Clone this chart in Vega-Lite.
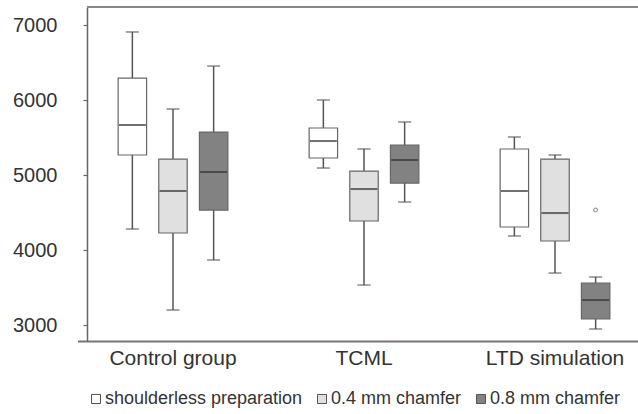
{
  "$schema": "https://vega.github.io/schema/vega-lite/v6.json",
  "width": 551,
  "height": 334,
  "autosize": "none",
  "padding": {"left": 87, "top": 7, "right": 0, "bottom": 73},
  "background": "white",
  "config": {
    "view": {"stroke": null},
    "font": "Liberation Sans",
    "axis": {"labelFont": "Liberation Sans", "labelColor": "#333", "grid": false, "title": null}
  },
  "datasets": {
    "boxes": [
      {"group": "Control group", "type": "shoulderless preparation", "lower": 4280, "q1": 5267, "median": 5667, "q3": 6293, "upper": 6907},
      {"group": "Control group", "type": "0.4 mm chamfer", "lower": 3200, "q1": 4227, "median": 4787, "q3": 5213, "upper": 5880},
      {"group": "Control group", "type": "0.8 mm chamfer", "lower": 3867, "q1": 4533, "median": 5040, "q3": 5573, "upper": 6453},
      {"group": "TCML", "type": "shoulderless preparation", "lower": 5093, "q1": 5227, "median": 5453, "q3": 5627, "upper": 6000},
      {"group": "TCML", "type": "0.4 mm chamfer", "lower": 3533, "q1": 4387, "median": 4813, "q3": 5053, "upper": 5347},
      {"group": "TCML", "type": "0.8 mm chamfer", "lower": 4640, "q1": 4893, "median": 5200, "q3": 5400, "upper": 5707},
      {"group": "LTD simulation", "type": "shoulderless preparation", "lower": 4187, "q1": 4307, "median": 4787, "q3": 5347, "upper": 5507},
      {"group": "LTD simulation", "type": "0.4 mm chamfer", "lower": 3693, "q1": 4120, "median": 4493, "q3": 5213, "upper": 5267},
      {"group": "LTD simulation", "type": "0.8 mm chamfer", "lower": 2947, "q1": 3080, "median": 3333, "q3": 3560, "upper": 3640}
    ],
    "outliers": [
      {"group": "LTD simulation", "type": "0.8 mm chamfer", "value": 4533}
    ]
  },
  "encoding": {
    "x": {
      "field": "group", "type": "nominal",
      "sort": ["Control group", "TCML", "LTD simulation"],
      "scale": {"range": [-9.5, 563.5], "paddingInner": 0, "paddingOuter": 0},
      "axis": {"orient": "bottom", "domainColor": "#777", "domainWidth": 2, "ticks": false, "labelFontSize": 21, "labelPadding": 6, "labelAngle": 0}
    },
    "xOffset": {
      "field": "type", "type": "nominal",
      "sort": ["shoulderless preparation", "0.4 mm chamfer", "0.8 mm chamfer"],
      "scale": {"paddingOuter": 1.1, "paddingInner": 0.3}
    }
  },
  "layer": [
    {
      "data": {"name": "boxes"},
      "mark": {"type": "rule", "color": "#555", "strokeWidth": 1.5},
      "encoding": {
        "y": {"field": "lower", "type": "quantitative",
          "scale": {"domain": [2787, 7240], "nice": false, "zero": false},
          "axis": {"values": [3000, 4000, 5000, 6000, 7000], "domainColor": "#666", "domainWidth": 1.5, "tickColor": "#666", "tickSize": 4, "tickWidth": 1.2, "labelFontSize": 20, "labelPadding": 26, "format": "d"}},
        "y2": {"field": "upper"}
      }
    },
    {
      "data": {"name": "boxes"},
      "mark": {"type": "tick", "color": "#555", "size": 13, "thickness": 1.5},
      "encoding": {"y": {"field": "upper", "type": "quantitative"}}
    },
    {
      "data": {"name": "boxes"},
      "mark": {"type": "tick", "color": "#555", "size": 13, "thickness": 1.5},
      "encoding": {"y": {"field": "lower", "type": "quantitative"}}
    },
    {
      "data": {"name": "boxes"},
      "mark": {"type": "bar", "stroke": "#666", "strokeWidth": 1.2},
      "encoding": {
        "y": {"field": "q1", "type": "quantitative"},
        "y2": {"field": "q3"},
        "fill": {
          "field": "type", "type": "nominal",
          "sort": ["shoulderless preparation", "0.4 mm chamfer", "0.8 mm chamfer"],
          "scale": {"domain": ["shoulderless preparation", "0.4 mm chamfer", "0.8 mm chamfer"], "range": ["#ffffff", "#e0e0e0", "#828282"]},
          "legend": {
            "title": null, "orient": "none", "direction": "horizontal",
            "legendX": 0, "legendY": 383,
            "symbolType": "square", "symbolSize": 81, "symbolStrokeColor": "#555", "symbolStrokeWidth": 1,
            "labelFont": "Liberation Sans", "labelFontSize": 18, "labelColor": "#333", "labelOffset": 0, "labelLimit": 400,
            "columnPadding": 10
          }
        }
      }
    },
    {
      "data": {"name": "boxes"},
      "mark": {"type": "tick", "color": "#333", "size": 27, "thickness": 2},
      "encoding": {"y": {"field": "median", "type": "quantitative"}}
    },
    {
      "data": {"name": "outliers"},
      "mark": {"type": "point", "shape": "circle", "filled": false, "stroke": "#777", "strokeWidth": 1.2, "size": 14},
      "encoding": {"y": {"field": "value", "type": "quantitative"}}
    },
    {
      "data": {"values": [{}]},
      "mark": {"type": "rule", "color": "#888", "strokeWidth": 2},
      "encoding": {"y": {"datum": 7240, "type": "quantitative"}, "x": null, "xOffset": null}
    }
  ]
}
